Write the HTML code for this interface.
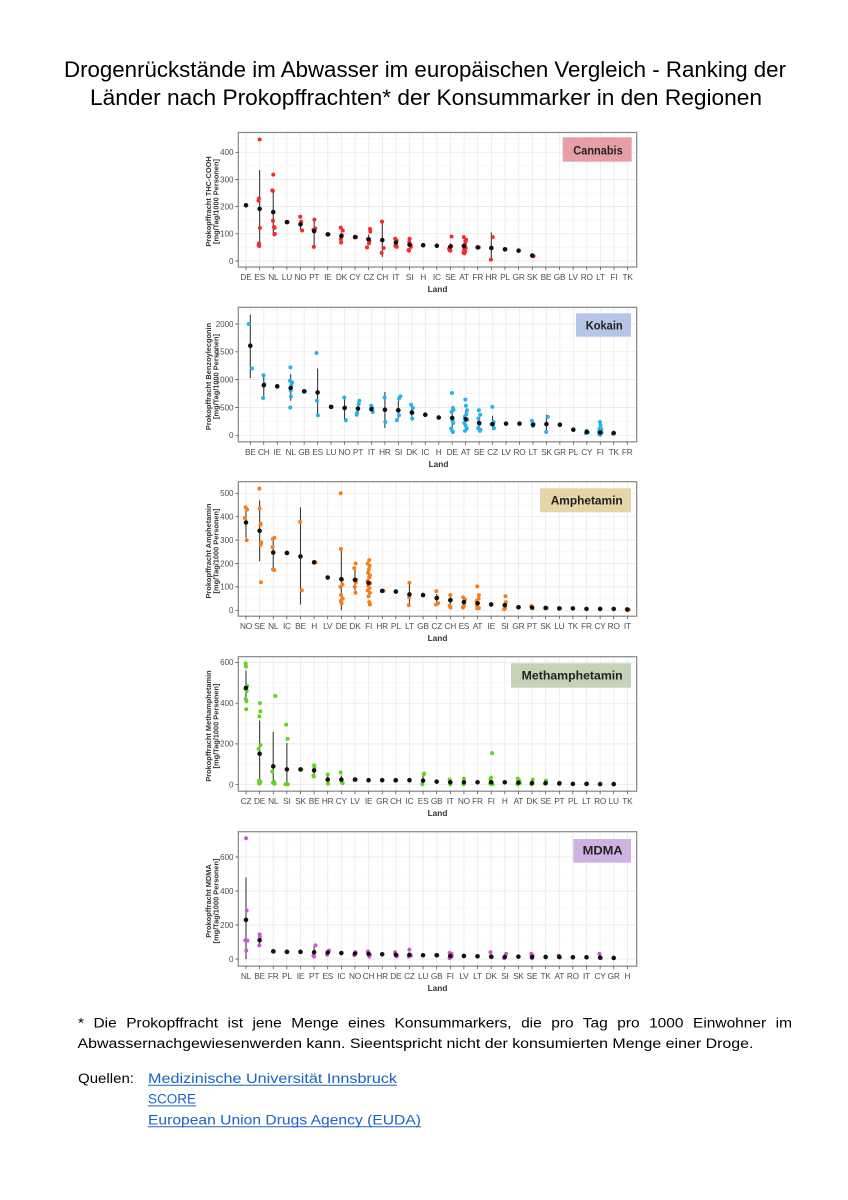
<!DOCTYPE html>
<html><head><meta charset="utf-8"><style>
html,body{margin:0;padding:0;background:#fff;}
svg{display:block;}
.t{font-family:"Liberation Sans",Arial,sans-serif;}
.tk{font-family:"Liberation Sans",Arial,sans-serif;font-size:8.3px;fill:#4d4d4d;letter-spacing:-0.2px;}
.yt{font-family:"Liberation Sans",Arial,sans-serif;font-size:8px;fill:#4d4d4d;text-anchor:end;}
.ax{font-family:"Liberation Sans",Arial,sans-serif;font-size:7.4px;font-weight:bold;fill:#333;text-anchor:middle;}
.land{font-family:"Liberation Sans",Arial,sans-serif;font-size:8.3px;font-weight:bold;fill:#333;text-anchor:middle;}
.lg{font-family:"Liberation Sans",Arial,sans-serif;font-size:12px;font-weight:bold;fill:#222;}
.ns{vector-effect:non-scaling-stroke;fill:none;}
.bar{stroke:#3a3a3a;stroke-width:1.1;}
.dot{stroke-linecap:round;stroke-width:4;}
.mean{stroke:#111;stroke-linecap:round;stroke-width:4.6;}
.hg{stroke:#e6e6e6;stroke-width:0.7;fill:none;}
.hm{stroke:#f2f2f2;stroke-width:0.5;fill:none;}
.frame{fill:none;stroke:#858585;stroke-width:1.2;}
.tm{stroke:#444;stroke-width:0.7;fill:none;}
</style></head><body>
<svg width="848" height="1200" viewBox="0 0 848 1200" xmlns="http://www.w3.org/2000/svg">
<defs>
<pattern id="v1" patternUnits="userSpaceOnUse" x="245.65" y="0" width="13.63" height="300"><rect x="0" y="0" width="0.7" height="300" fill="#e6e6e6"/></pattern>
<pattern id="v2" patternUnits="userSpaceOnUse" x="249.95" y="0" width="13.46" height="300"><rect x="0" y="0" width="0.7" height="300" fill="#e6e6e6"/></pattern>
<pattern id="v3" patternUnits="userSpaceOnUse" x="245.65" y="0" width="13.62" height="300"><rect x="0" y="0" width="0.7" height="300" fill="#e6e6e6"/></pattern>
<clipPath id="c1"><rect x="238.3" y="132.5" width="398.4" height="134.5"/></clipPath>
<clipPath id="c2"><rect x="238.3" y="307.3" width="398.4" height="134.5"/></clipPath>
<clipPath id="c3"><rect x="238.3" y="481.7" width="398.4" height="134.5"/></clipPath>
<clipPath id="c4"><rect x="238.3" y="656.7" width="398.4" height="134.5"/></clipPath>
<clipPath id="c5"><rect x="238.3" y="831.7" width="398.4" height="134.5"/></clipPath>
</defs>
<rect width="848" height="1200" fill="#fff"/>

<!-- Title -->
<text class="t" x="64" y="77" font-size="22" fill="#000" textLength="722" lengthAdjust="spacingAndGlyphs">Drogenrückstände im Abwasser im europäischen Vergleich - Ranking der</text>
<text class="t" x="90" y="105" font-size="22" fill="#000" textLength="672" lengthAdjust="spacingAndGlyphs">Länder nach Prokopffrachten*  der Konsummarker in den Regionen</text>

<!-- ================= CHART 1: Cannabis ================= -->
<rect x="238.3" y="132.5" width="398.4" height="134.5" fill="url(#v1)"/>
<path class="hm" d="M238.3 247.4H636.7M238.3 220.2H636.7M238.3 193.1H636.7M238.3 165.9H636.7M238.3 138.7H636.7"/>
<path class="hg" d="M238.3 261H636.7M238.3 233.8H636.7M238.3 206.6H636.7M238.3 179.5H636.7M238.3 152.3H636.7"/>
<rect x="562.7" y="137.3" width="69" height="24.4" fill="#e6a0a5"/>
<text class="lg" x="573.3" y="154.3" textLength="49.4" lengthAdjust="spacingAndGlyphs">Cannabis</text>
<g clip-path="url(#c1)"><g transform="translate(246 261) scale(13.63 -0.2718)">
<path class="ns bar" d="M1 50V335M2 95V265M4 115V150M5 55V150M7 80V105M9 62V98M10 15V140M11 60V78M12 48V72M15 42V65M16 30V78M18 0V105M21 15V25"/>
<path class="ns dot" stroke="#f42a2e" d="M1 447h0M0.95 230h0M0.92 222h0M1.02 122h0M0.95 65h0M0.93 58h0M0.97 55h0M2 318h0M1.93 260h0M1.97 258h0M1.98 148h0M2.05 125h0M2.1 122h0M2.12 100h0M2.08 98h0M3.05 143h0M3.98 163h0M4.05 145h0M4 135h0M4.12 112h0M5.02 152h0M5.08 120h0M4.95 115h0M4.98 52h0M6.06 98h0M6.95 123h0M7.1 112h0M7.02 95h0M6.96 80h0M6.98 68h0M8.08 88h0M9.1 118h0M9.12 108h0M8.95 80h0M9.05 72h0M9.02 65h0M8.88 50h0M9.98 145h0M10.1 48h0M9.95 30h0M10.95 82h0M11.05 75h0M11 65h0M10.96 55h0M11.06 52h0M12 82h0M11.98 70h0M12.08 58h0M12.1 52h0M11.93 40h0M11.96 38h0M15.08 90h0M15.05 55h0M14.95 50h0M14.9 45h0M14.93 40h0M15 38h0M15.98 88h0M16.15 78h0M16.1 70h0M16.05 60h0M15.95 55h0M16.12 48h0M16 42h0M16.08 35h0M15.96 30h0M16.02 28h0M17.08 50h0M18.1 88h0M17.97 5h0M19.03 43h0M21.1 18h0"/>
<path class="ns mean" d="M0 205h0M1 192h0M2 180h0M3 143h0M4 135h0M5 110h0M6 98h0M7 92h0M8 88h0M9 80h0M10 77h0M11 68h0M12 60h0M13 58h0M14 56h0M15 53h0M16 55h0M17 50h0M18 48h0M19 43h0M20 38h0M21 20h0"/>
</g></g>
<rect class="frame" x="238.3" y="132.5" width="398.4" height="134.5"/>
<path class="tm" d="M235.3 261h3M235.3 233.8h3M235.3 206.6h3M235.3 179.5h3M235.3 152.3h3"/>
<path class="tm" d="M246 267v3m13.63 -3v3m13.63 -3v3m13.63 -3v3m13.63 -3v3m13.63 -3v3m13.63 -3v3m13.63 -3v3m13.63 -3v3m13.63 -3v3m13.63 -3v3m13.63 -3v3m13.63 -3v3m13.63 -3v3m13.63 -3v3m13.63 -3v3m13.63 -3v3m13.63 -3v3m13.63 -3v3m13.63 -3v3m13.63 -3v3m13.63 -3v3m13.63 -3v3m13.63 -3v3m13.63 -3v3m13.63 -3v3m13.63 -3v3m13.63 -3v3m13.63 -3v3"/>
<text class="yt"><tspan x="233.5" y="263.8">0</tspan><tspan x="233.5" y="236.6">100</tspan><tspan x="233.5" y="209.4">200</tspan><tspan x="233.5" y="182.3">300</tspan><tspan x="233.5" y="155.1">400</tspan></text>
<text class="tk" text-anchor="middle" y="280"><tspan x="246">DE</tspan><tspan x="259.6">ES</tspan><tspan x="273.3">NL</tspan><tspan x="286.9">LU</tspan><tspan x="300.5">NO</tspan><tspan x="314.2">PT</tspan><tspan x="327.8">IE</tspan><tspan x="341.4">DK</tspan><tspan x="355">CY</tspan><tspan x="368.7">CZ</tspan><tspan x="382.3">CH</tspan><tspan x="395.9">IT</tspan><tspan x="409.6">SI</tspan><tspan x="423.2">H</tspan><tspan x="436.8">IC</tspan><tspan x="450.5">SE</tspan><tspan x="464.1">AT</tspan><tspan x="477.7">FR</tspan><tspan x="491.3">HR</tspan><tspan x="505">PL</tspan><tspan x="518.6">GR</tspan><tspan x="532.2">SK</tspan><tspan x="545.9">BE</tspan><tspan x="559.5">GB</tspan><tspan x="573.1">LV</tspan><tspan x="586.8">RO</tspan><tspan x="600.4">LT</tspan><tspan x="614">FI</tspan><tspan x="627.6">TK</tspan></text>
<text class="land" x="437.5" y="292">Land</text>
<text class="ax" transform="translate(211 201.5) rotate(-90)">Prokopffracht THC-COOH</text>
<text class="ax" transform="translate(218.5 201.5) rotate(-90)">[mg/Tag/1000 Personen]</text>

<!-- ================= CHART 2: Kokain ================= -->
<rect x="238.3" y="307.3" width="398.4" height="134.5" fill="url(#v2)"/>
<path class="hm" d="M238.3 421.4H636.7M238.3 393.6H636.7M238.3 365.7H636.7M238.3 337.9H636.7M238.3 310.1H636.7"/>
<path class="hg" d="M238.3 435.3H636.7M238.3 407.5H636.7M238.3 379.6H636.7M238.3 351.8H636.7M238.3 324H636.7"/>
<rect x="576" y="313.3" width="55" height="23.4" fill="#b4c6e7"/>
<text class="lg" x="585.7" y="329.3" textLength="37" lengthAdjust="spacingAndGlyphs">Kokain</text>
<g clip-path="url(#c2)"><g transform="translate(250.3 435.3) scale(13.46 -0.05565)">
<path class="ns bar" d="M0 1030V2170M1 700V1100M3 620V1100M5 350V1200M7 280V680M8 380V560M9 420V530M10 130V780M11 300V620M12 330V490M15 120V520M16 150V450M17 110V340M18 100V350M21 160V230M22 50V370M25 30V80M26 0V110"/>
<path class="ns dot" stroke="#26b2ea" d="M-0.12 2000h0M0.12 1200h0M0.98 1080h0M1.05 920h0M0.95 670h0M2.98 1220h0M2.95 980h0M3.1 950h0M3.05 900h0M3 800h0M3.02 700h0M2.97 500h0M4.06 790h0M4.92 1480h0M4.95 620h0M5.02 360h0M6.05 510h0M6.98 680h0M7.05 500h0M7.1 270h0M8.1 620h0M8.05 560h0M7.93 400h0M7.9 370h0M8.98 530h0M9.04 500h0M9.1 420h0M9.98 680h0M10.03 240h0M11.15 700h0M11.05 660h0M10.95 450h0M11.05 360h0M10.88 270h0M11.95 550h0M12.08 490h0M12.05 400h0M12.03 300h0M14.98 760h0M15.05 490h0M15.1 460h0M14.95 420h0M15.02 260h0M15.08 220h0M14.92 120h0M15 80h0M15.05 60h0M15.98 640h0M16.02 530h0M16.1 450h0M16.05 380h0M15.93 330h0M16.12 280h0M15.9 220h0M16 170h0M16.08 120h0M15.95 80h0M16.98 450h0M17.08 370h0M16.95 300h0M17.02 200h0M16.93 130h0M17.1 100h0M17.05 80h0M17.98 510h0M18.08 240h0M17.92 200h0M18.1 130h0M20.93 260h0M21.05 200h0M21 170h0M22.1 330h0M21.98 60h0M24.98 80h0M25.08 50h0M24.93 40h0M25.98 240h0M26.02 180h0M25.95 120h0M26.05 80h0M26.1 50h0M25.92 20h0M26 10h0M26.08 110h0M25.9 60h0M26.95 30h0"/>
<path class="ns mean" d="M0 1610h0M1 900h0M2 880h0M3 850h0M4 790h0M5 770h0M6 510h0M7 490h0M8 480h0M9 470h0M10 460h0M11 450h0M12 410h0M13 370h0M14 320h0M15 310h0M16 290h0M17 220h0M18 200h0M19 210h0M20 210h0M21 190h0M22 200h0M23 190h0M24 100h0M25 60h0M26 50h0M27 40h0"/>
</g></g>
<rect class="frame" x="238.3" y="307.3" width="398.4" height="134.5"/>
<path class="tm" d="M235.3 435.3h3M235.3 407.5h3M235.3 379.6h3M235.3 351.8h3M235.3 324h3"/>
<path class="tm" d="M250.3 441.8v3m13.46 -3v3m13.46 -3v3m13.46 -3v3m13.46 -3v3m13.46 -3v3m13.46 -3v3m13.46 -3v3m13.46 -3v3m13.46 -3v3m13.46 -3v3m13.46 -3v3m13.46 -3v3m13.46 -3v3m13.46 -3v3m13.46 -3v3m13.46 -3v3m13.46 -3v3m13.46 -3v3m13.46 -3v3m13.46 -3v3m13.46 -3v3m13.46 -3v3m13.46 -3v3m13.46 -3v3m13.46 -3v3m13.46 -3v3m13.46 -3v3m13.46 -3v3"/>
<text class="yt"><tspan x="233.5" y="438.1">0</tspan><tspan x="233.5" y="410.3">500</tspan><tspan x="233.5" y="382.4">1000</tspan><tspan x="233.5" y="354.6">1500</tspan><tspan x="233.5" y="326.8">2000</tspan></text>
<text class="tk" text-anchor="middle" y="454.8"><tspan x="250.3">BE</tspan><tspan x="263.8">CH</tspan><tspan x="277.2">IE</tspan><tspan x="290.7">NL</tspan><tspan x="304.1">GB</tspan><tspan x="317.6">ES</tspan><tspan x="331.1">LU</tspan><tspan x="344.5">NO</tspan><tspan x="358">PT</tspan><tspan x="371.4">IT</tspan><tspan x="384.9">HR</tspan><tspan x="398.4">SI</tspan><tspan x="411.8">DK</tspan><tspan x="425.3">IC</tspan><tspan x="438.7">H</tspan><tspan x="452.2">DE</tspan><tspan x="465.7">AT</tspan><tspan x="479.1">SE</tspan><tspan x="492.6">CZ</tspan><tspan x="506">LV</tspan><tspan x="519.5">RO</tspan><tspan x="533">LT</tspan><tspan x="546.4">SK</tspan><tspan x="559.9">GR</tspan><tspan x="573.3">PL</tspan><tspan x="586.8">CY</tspan><tspan x="600.3">FI</tspan><tspan x="613.7">TK</tspan><tspan x="627.2">FR</tspan></text>
<text class="land" x="438.5" y="466.8">Land</text>
<text class="ax" transform="translate(211 376.5) rotate(-90)">Prokopffracht Benzoylecgonin</text>
<text class="ax" transform="translate(218.5 376.5) rotate(-90)">[mg/Tag/1000 Personen]</text>

<!-- ================= CHART 3: Amphetamin ================= -->
<rect x="238.3" y="481.7" width="398.4" height="134.5" fill="url(#v3)"/>
<path class="hm" d="M238.3 598.6H636.7M238.3 575.2H636.7M238.3 551.8H636.7M238.3 528.4H636.7M238.3 505H636.7"/>
<path class="hg" d="M238.3 610.3H636.7M238.3 586.9H636.7M238.3 563.5H636.7M238.3 540.1H636.7M238.3 516.7H636.7M238.3 493.3H636.7"/>
<rect x="540" y="488.3" width="91" height="24" fill="#e6d5a6"/>
<text class="lg" x="550.7" y="504.3" textLength="72" lengthAdjust="spacingAndGlyphs">Amphetamin</text>
<g clip-path="url(#c3)"><g transform="translate(246 610.3) scale(13.62 -0.234)">
<path class="ns bar" d="M0 310V440M1 210V470M2 175V305M4 25V440M7 0V270M8 85V180M9 70V160M12 25V115M14 35V70M15 25V60M16 20V50M17 15V50M19 8V35"/>
<path class="ns dot" stroke="#f47f1c" d="M-0.03 440h0M0.08 430h0M-0.08 395h0M0.05 300h0M0.98 520h0M1 435h0M1.08 370h0M1.05 365h0M1.12 290h0M1.08 280h0M1.1 120h0M2.08 310h0M1.97 305h0M1.95 270h0M1.98 175h0M2.07 172h0M3.05 245h0M3.97 378h0M4.1 85h0M5.1 205h0M6.95 500h0M6.97 262h0M7.05 130h0M7.08 110h0M6.94 100h0M6.98 65h0M7.1 50h0M6.96 40h0M7.02 30h0M8.05 200h0M7.95 180h0M8.1 130h0M8.06 120h0M7.98 100h0M8.04 75h0M9.05 215h0M8.94 200h0M9.08 190h0M9.02 175h0M8.96 160h0M9.1 150h0M9.05 140h0M8.92 125h0M9.12 115h0M8.98 105h0M9.06 95h0M8.93 85h0M9.1 75h0M9 60h0M9.05 35h0M9.1 25h0M10.1 83h0M12 118h0M11.98 55h0M11.95 22h0M13.98 82h0M14.05 55h0M14.1 30h0M13.95 25h0M15 65h0M15.05 45h0M14.95 20h0M15.02 12h0M15.95 55h0M16.08 45h0M16 20h0M15.93 12h0M16.98 102h0M17.1 65h0M17.08 50h0M16.93 40h0M17.05 30h0M16.96 20h0M17.1 10h0M16.98 8h0M19.05 60h0M19.08 35h0M18.98 20h0M19.02 10h0M18.95 5h0M20.05 13h0M20.95 18h0M21.05 8h0M22.08 10h0M23.06 8h0M28.1 3h0M27.95 5h0"/>
<path class="ns mean" d="M0 375h0M1 340h0M2 247h0M3 245h0M4 230h0M5 205h0M6 140h0M7 133h0M8 130h0M9 117h0M10 83h0M11 80h0M12 68h0M13 65h0M14 52h0M15 43h0M16 35h0M17 30h0M18 25h0M19 22h0M20 13h0M21 12h0M22 10h0M23 8h0M24 8h0M25 6h0M26 6h0M27 6h0M28 3h0"/>
</g></g>
<rect class="frame" x="238.3" y="481.7" width="398.4" height="134.5"/>
<path class="tm" d="M235.3 610.3h3M235.3 586.9h3M235.3 563.5h3M235.3 540.1h3M235.3 516.7h3M235.3 493.3h3"/>
<path class="tm" d="M246 616.2v3m13.62 -3v3m13.62 -3v3m13.62 -3v3m13.62 -3v3m13.62 -3v3m13.62 -3v3m13.62 -3v3m13.62 -3v3m13.62 -3v3m13.62 -3v3m13.62 -3v3m13.62 -3v3m13.62 -3v3m13.62 -3v3m13.62 -3v3m13.62 -3v3m13.62 -3v3m13.62 -3v3m13.62 -3v3m13.62 -3v3m13.62 -3v3m13.62 -3v3m13.62 -3v3m13.62 -3v3m13.62 -3v3m13.62 -3v3m13.62 -3v3m13.62 -3v3"/>
<text class="yt"><tspan x="233.5" y="613.1">0</tspan><tspan x="233.5" y="589.7">100</tspan><tspan x="233.5" y="566.3">200</tspan><tspan x="233.5" y="542.9">300</tspan><tspan x="233.5" y="519.5">400</tspan><tspan x="233.5" y="496.1">500</tspan></text>
<text class="tk" text-anchor="middle" y="629.2"><tspan x="246">NO</tspan><tspan x="259.6">SE</tspan><tspan x="273.2">NL</tspan><tspan x="286.9">IC</tspan><tspan x="300.5">BE</tspan><tspan x="314.1">H</tspan><tspan x="327.7">LV</tspan><tspan x="341.3">DE</tspan><tspan x="355">DK</tspan><tspan x="368.6">FI</tspan><tspan x="382.2">HR</tspan><tspan x="395.8">PL</tspan><tspan x="409.4">LT</tspan><tspan x="423.1">GB</tspan><tspan x="436.7">CZ</tspan><tspan x="450.3">CH</tspan><tspan x="463.9">ES</tspan><tspan x="477.5">AT</tspan><tspan x="491.2">IE</tspan><tspan x="504.8">SI</tspan><tspan x="518.4">GR</tspan><tspan x="532">PT</tspan><tspan x="545.6">SK</tspan><tspan x="559.3">LU</tspan><tspan x="572.9">TK</tspan><tspan x="586.5">FR</tspan><tspan x="600.1">CY</tspan><tspan x="613.7">RO</tspan><tspan x="627.4">IT</tspan></text>
<text class="land" x="437.5" y="641.2">Land</text>
<text class="ax" transform="translate(211 551) rotate(-90)">Prokopffracht Amphetamin</text>
<text class="ax" transform="translate(218.5 551) rotate(-90)">[mg/Tag/1000 Personen]</text>

<!-- ================= CHART 4: Methamphetamin ================= -->
<rect x="238.3" y="656.7" width="398.4" height="134.5" fill="url(#v3)"/>
<path class="hm" d="M238.3 764.3H636.7M238.3 723.6H636.7M238.3 682.8H636.7"/>
<path class="hg" d="M238.3 784.7H636.7M238.3 743.9H636.7M238.3 703.2H636.7M238.3 662.4H636.7"/>
<rect x="511" y="663.3" width="120" height="24.4" fill="#c4d3b7"/>
<text class="lg" x="521.7" y="679.3" textLength="101" lengthAdjust="spacingAndGlyphs">Methamphetamin</text>
<g clip-path="url(#c4)"><g transform="translate(246 784.7) scale(13.62 -0.2038)">
<path class="ns bar" d="M0 400V560M1 0V315M2 0V260M3 0V205M5 45V95M6 5V45M7 8V45M13 2V45M18 2V35M20 2V25"/>
<path class="ns dot" stroke="#62d41e" d="M-0.02 595h0M0 580h0M0.08 485h0M-0.05 470h0M0.05 460h0M-0.02 420h0M0.03 410h0M0.02 370h0M1.02 400h0M1.05 360h0M0.98 335h0M1.06 195h0M0.93 175h0M0.95 20h0M1.05 15h0M1.02 10h0M0.97 5h0M2.15 435h0M1.93 65h0M2.05 15h0M1.98 10h0M2.1 5h0M2.95 295h0M3.05 225h0M2.9 2h0M3.07 2h0M4.07 75h0M5 95h0M5.02 85h0M4.95 45h0M4.98 40h0M6 50h0M6.02 5h0M6.95 60h0M7.05 10h0M7.1 8h0M8.07 25h0M10.95 20h0M13.08 55h0M13.05 50h0M12.95 2h0M14.95 25h0M15 2h0M16 30h0M15.98 2h0M18.07 155h0M18 35h0M17.95 25h0M18.05 10h0M17.93 5h0M18.1 2h0M19.95 30h0M20.05 20h0M20.1 8h0M19.93 2h0M21.05 25h0M20.95 2h0M22.02 20h0M21.95 5h0M23.05 10h0M25.05 6h0"/>
<path class="ns mean" d="M0 475h0M1 152h0M2 90h0M3 75h0M4 75h0M5 70h0M6 25h0M7 25h0M8 25h0M9 22h0M10 22h0M11 22h0M12 22h0M13 20h0M14 15h0M15 12h0M16 12h0M17 12h0M18 12h0M19 12h0M20 10h0M21 8h0M22 8h0M23 6h0M24 4h0M25 4h0M26 3h0M27 3h0"/>
</g></g>
<rect class="frame" x="238.3" y="656.7" width="398.4" height="134.5"/>
<path class="tm" d="M235.3 784.7h3M235.3 743.9h3M235.3 703.2h3M235.3 662.4h3"/>
<path class="tm" d="M246 791.2v3m13.62 -3v3m13.62 -3v3m13.62 -3v3m13.62 -3v3m13.62 -3v3m13.62 -3v3m13.62 -3v3m13.62 -3v3m13.62 -3v3m13.62 -3v3m13.62 -3v3m13.62 -3v3m13.62 -3v3m13.62 -3v3m13.62 -3v3m13.62 -3v3m13.62 -3v3m13.62 -3v3m13.62 -3v3m13.62 -3v3m13.62 -3v3m13.62 -3v3m13.62 -3v3m13.62 -3v3m13.62 -3v3m13.62 -3v3m13.62 -3v3m13.62 -3v3"/>
<text class="yt"><tspan x="233.5" y="787.5">0</tspan><tspan x="233.5" y="746.7">200</tspan><tspan x="233.5" y="706">400</tspan><tspan x="233.5" y="665.2">600</tspan></text>
<text class="tk" text-anchor="middle" y="804.2"><tspan x="246">CZ</tspan><tspan x="259.6">DE</tspan><tspan x="273.2">NL</tspan><tspan x="286.9">SI</tspan><tspan x="300.5">SK</tspan><tspan x="314.1">BE</tspan><tspan x="327.7">HR</tspan><tspan x="341.3">CY</tspan><tspan x="355">LV</tspan><tspan x="368.6">IE</tspan><tspan x="382.2">GR</tspan><tspan x="395.8">CH</tspan><tspan x="409.4">IC</tspan><tspan x="423.1">ES</tspan><tspan x="436.7">GB</tspan><tspan x="450.3">IT</tspan><tspan x="463.9">NO</tspan><tspan x="477.5">FR</tspan><tspan x="491.2">FI</tspan><tspan x="504.8">H</tspan><tspan x="518.4">AT</tspan><tspan x="532">DK</tspan><tspan x="545.6">SE</tspan><tspan x="559.3">PT</tspan><tspan x="572.9">PL</tspan><tspan x="586.5">LT</tspan><tspan x="600.1">RO</tspan><tspan x="613.7">LU</tspan><tspan x="627.4">TK</tspan></text>
<text class="land" x="437.5" y="816.2">Land</text>
<text class="ax" transform="translate(211 726) rotate(-90)">Prokopffracht Methamphetamin</text>
<text class="ax" transform="translate(218.5 726) rotate(-90)">[mg/Tag/1000 Personen]</text>

<!-- ================= CHART 5: MDMA ================= -->
<rect x="238.3" y="831.7" width="398.4" height="134.5" fill="url(#v3)"/>
<path class="hm" d="M238.3 942H636.7M238.3 908H636.7M238.3 874H636.7M238.3 840H636.7"/>
<path class="hg" d="M238.3 959H636.7M238.3 925H636.7M238.3 891H636.7M238.3 857H636.7"/>
<rect x="573.3" y="839" width="57.7" height="23.7" fill="#cdb2e2"/>
<text class="lg" x="582.7" y="854.3" textLength="40" lengthAdjust="spacingAndGlyphs">MDMA</text>
<g clip-path="url(#c5)"><g transform="translate(246 959) scale(13.62 -0.17)">
<path class="ns bar" d="M0 0V480M1 80V135M5 15V75M6 25V50M9 15V45"/>
<path class="ns dot" stroke="#cf55d2" d="M0 710h0M0.05 285h0M-0.05 110h0M0.1 108h0M0.02 50h0M1 145h0M1.02 130h0M0.98 80h0M2.05 45h0M3.05 42h0M5.1 80h0M4.95 20h0M5 15h0M6.1 50h0M6.05 40h0M5.95 25h0M8.05 40h0M7.95 22h0M8.95 45h0M9.05 15h0M9.1 25h0M10.95 40h0M11.05 15h0M11.1 20h0M12 55h0M11.95 15h0M12.1 20h0M14.05 22h0M14.95 35h0M15.05 25h0M15.1 15h0M14.95 5h0M15.1 30h0M15 10h0M17.95 40h0M18.05 10h0M19.1 30h0M18.95 5h0M20.95 30h0M21 5h0M21.05 20h0M22.95 20h0M23.05 10h0M25.95 30h0M26.05 5h0"/>
<path class="ns mean" d="M0 230h0M1 110h0M2 45h0M3 42h0M4 42h0M5 40h0M6 38h0M7 35h0M8 32h0M9 30h0M10 28h0M11 25h0M12 25h0M13 22h0M14 22h0M15 18h0M16 18h0M17 16h0M18 14h0M19 12h0M20 14h0M21 12h0M22 12h0M23 12h0M24 10h0M25 10h0M26 8h0M27 6h0"/>
</g></g>
<rect class="frame" x="238.3" y="831.7" width="398.4" height="134.5"/>
<path class="tm" d="M235.3 959h3M235.3 925h3M235.3 891h3M235.3 857h3"/>
<path class="tm" d="M246 966.2v3m13.62 -3v3m13.62 -3v3m13.62 -3v3m13.62 -3v3m13.62 -3v3m13.62 -3v3m13.62 -3v3m13.62 -3v3m13.62 -3v3m13.62 -3v3m13.62 -3v3m13.62 -3v3m13.62 -3v3m13.62 -3v3m13.62 -3v3m13.62 -3v3m13.62 -3v3m13.62 -3v3m13.62 -3v3m13.62 -3v3m13.62 -3v3m13.62 -3v3m13.62 -3v3m13.62 -3v3m13.62 -3v3m13.62 -3v3m13.62 -3v3m13.62 -3v3"/>
<text class="yt"><tspan x="233.5" y="961.8">0</tspan><tspan x="233.5" y="927.8">200</tspan><tspan x="233.5" y="893.8">400</tspan><tspan x="233.5" y="859.8">600</tspan></text>
<text class="tk" text-anchor="middle" y="979.2"><tspan x="246">NL</tspan><tspan x="259.6">BE</tspan><tspan x="273.2">FR</tspan><tspan x="286.9">PL</tspan><tspan x="300.5">IE</tspan><tspan x="314.1">PT</tspan><tspan x="327.7">ES</tspan><tspan x="341.3">IC</tspan><tspan x="355">NO</tspan><tspan x="368.6">CH</tspan><tspan x="382.2">HR</tspan><tspan x="395.8">DE</tspan><tspan x="409.4">CZ</tspan><tspan x="423.1">LU</tspan><tspan x="436.7">GB</tspan><tspan x="450.3">FI</tspan><tspan x="463.9">LV</tspan><tspan x="477.5">LT</tspan><tspan x="491.2">DK</tspan><tspan x="504.8">SI</tspan><tspan x="518.4">SK</tspan><tspan x="532">SE</tspan><tspan x="545.6">TK</tspan><tspan x="559.3">AT</tspan><tspan x="572.9">RO</tspan><tspan x="586.5">IT</tspan><tspan x="600.1">CY</tspan><tspan x="613.7">GR</tspan><tspan x="627.4">H</tspan></text>
<text class="land" x="437.5" y="991.2">Land</text>
<text class="ax" transform="translate(211 901) rotate(-90)">Prokopffracht MDMA</text>
<text class="ax" transform="translate(218.5 901) rotate(-90)">[mg/Tag/1000 Personen]</text>

<!-- Footer -->
<text class="t" x="78" y="1027.5" font-size="13.5" fill="#000" style="word-spacing:4.5px" textLength="714" lengthAdjust="spacingAndGlyphs">* Die Prokopffracht ist jene Menge eines Konsummarkers, die pro Tag pro 1000 Einwohner im</text>
<text class="t" x="77.5" y="1048" font-size="13.5" fill="#000" textLength="676" lengthAdjust="spacingAndGlyphs">Abwassernachgewiesenwerden kann. Sieentspricht nicht der konsumierten Menge einer Droge.</text>
<text class="t" x="78" y="1083" font-size="13.5" fill="#000" textLength="56" lengthAdjust="spacingAndGlyphs">Quellen:</text>
<text class="t" x="148" y="1083" font-size="13.5" fill="#1a62c9" textLength="249" lengthAdjust="spacingAndGlyphs">Medizinische Universität Innsbruck</text>
<text class="t" x="148" y="1103.7" font-size="13.5" fill="#1a62c9" textLength="48" lengthAdjust="spacingAndGlyphs">SCORE</text>
<text class="t" x="148" y="1124.5" font-size="13.5" fill="#1a62c9" textLength="273" lengthAdjust="spacingAndGlyphs">European Union Drugs Agency (EUDA)</text>
<path d="M148 1085.2H397M148 1105.9H196M148 1126.7H421" stroke="#1a62c9" stroke-width="1" fill="none"/>
</svg>
</body></html>
